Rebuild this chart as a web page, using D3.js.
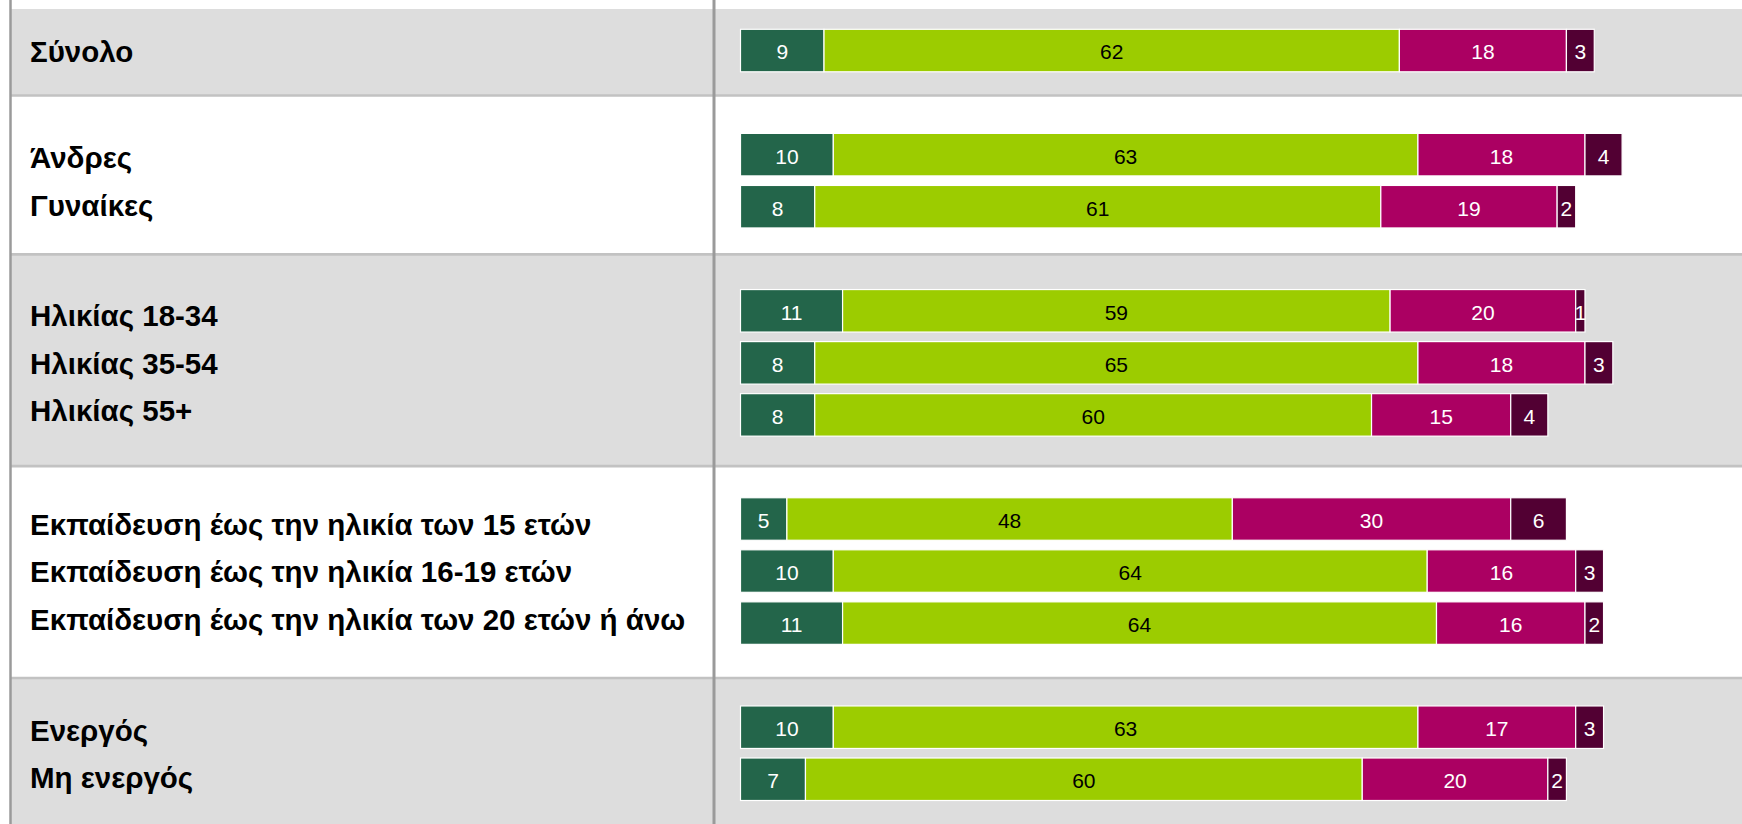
<!DOCTYPE html>
<html>
<head>
<meta charset="utf-8">
<script src="https://cdn.jsdelivr.net/npm/d3@7"></script>
<style>
  html, body { margin: 0; padding: 0; background: #ffffff; }
  svg { display: block; }
</style>
</head>
<body>
<script>
// ---- Data ----
const categories = [
  "Σύνολο",
  "Άνδρες", "Γυναίκες",
  "Ηλικίας 18-34", "Ηλικίας 35-54", "Ηλικίας 55+",
  "Εκπαίδευση έως την ηλικία των 15 ετών",
  "Εκπαίδευση έως την ηλικία 16-19 ετών",
  "Εκπαίδευση έως την ηλικία των 20 ετών ή άνω",
  "Ενεργός", "Μη ενεργός"
];
const groupOf = [0, 1, 1, 2, 2, 2, 3, 3, 3, 4, 4];
const series1 = [9, 10, 8, 11, 8, 8, 5, 10, 11, 10, 7];
const series2 = [62, 63, 61, 59, 65, 60, 48, 64, 64, 63, 60];
const series3 = [18, 18, 19, 20, 18, 15, 30, 16, 16, 17, 20];
const series4 = [3, 4, 2, 1, 3, 4, 6, 3, 2, 3, 2];
const seriesKeys = ["s1", "s2", "s3", "s4"];
const seriesColors = ["#23654a", "#9ccc00", "#ab0062", "#520033"];
const labelColors = ["#ffffff", "#000000", "#ffffff", "#ffffff"];

// ---- Layout ----
const W = 1742, H = 824;
const rows = categories.map((c, i) => ({
  name: c, g: groupOf[i], slot: i + groupOf[i],
  s1: series1[i], s2: series2[i], s3: series3[i], s4: series4[i]
}));
const nGroups = d3.max(groupOf) + 1;
const lastSlot = d3.max(rows, d => d.slot);

const x = d3.scaleLinear().domain([0, 100]).range([740.5, 1668.5]);
const y = d3.scaleLinear().domain([0, lastSlot]).range([29.3, 758]);
const barH = 42.5;
const sepY = d3.scaleLinear().domain([1, 12]).range([95.5, 678]);
const labelPitch = 47.5;

const svg = d3.select("body").append("svg").attr("width", W).attr("height", H);

// group bands
const groups = d3.range(nGroups).map(g => {
  const rs = rows.filter(r => r.g === g);
  return { g, rows: rs, first: rs[0].slot, last: rs[rs.length - 1].slot };
});
groups.forEach((gr, k) => {
  gr.top = k === 0 ? 9 : sepY(gr.first - 1);
  gr.bottom = k === nGroups - 1 ? H : sepY(gr.last + 1);
});

svg.selectAll("rect.band").data(groups).join("rect")
  .attr("class", "band")
  .attr("x", 10).attr("width", W - 10)
  .attr("y", d => d.top).attr("height", d => d.bottom - d.top)
  .attr("fill", d => d.g % 2 === 0 ? "#dddddd" : "#ffffff");

// separators
svg.selectAll("line.sep").data(groups.slice(1)).join("line")
  .attr("class", "sep")
  .attr("x1", 10).attr("x2", W)
  .attr("y1", d => d.top).attr("y2", d => d.top)
  .attr("stroke", "#c2c2c2").attr("stroke-width", 2.7);

// vertical rules
svg.append("line").attr("x1", 10.5).attr("x2", 10.5).attr("y1", 0).attr("y2", H)
  .attr("stroke", "#9a9a9a").attr("stroke-width", 2.5);
svg.append("line").attr("x1", 714).attr("x2", 714).attr("y1", 0).attr("y2", H)
  .attr("stroke", "#9a9a9a").attr("stroke-width", 3);

// row labels
const labelData = [];
groups.forEach(gr => {
  const c = (y(gr.first) + y(gr.last) + barH) / 2 + 0.5;
  const n = gr.rows.length;
  gr.rows.forEach((r, i) => labelData.push({ name: r.name, cy: c + (i - (n - 1) / 2) * labelPitch }));
});
svg.selectAll("text.rowlabel").data(labelData).join("text")
  .attr("class", "rowlabel")
  .attr("x", 30).attr("y", d => d.cy)
  .attr("dy", "0.36em")
  .attr("font-family", "'Liberation Sans', Arial, sans-serif")
  .attr("font-weight", "bold").attr("font-size", 29.5)
  .attr("fill", "#000")
  .text(d => d.name);

// stacked bars
const stack = d3.stack().keys(seriesKeys)(rows);
const layer = svg.selectAll("g.layer").data(stack).join("g")
  .attr("class", "layer")
  .attr("fill", (d, i) => seriesColors[i]);
layer.selectAll("rect").data(d => d).join("rect")
  .attr("x", d => x(d[0]))
  .attr("width", d => x(d[1]) - x(d[0]))
  .attr("y", d => y(d.data.slot))
  .attr("height", barH)
  .attr("stroke", "#ffffff").attr("stroke-width", 1.2);

stack.forEach((s, si) => {
  svg.append("g").selectAll("text").data(s).join("text")
    .attr("x", d => (x(d[0]) + x(d[1])) / 2)
    .attr("y", d => y(d.data.slot) + barH / 2 + 1.5)
    .attr("dy", "0.35em")
    .attr("text-anchor", "middle")
    .attr("font-family", "'Liberation Sans', Arial, sans-serif")
    .attr("font-size", 21)
    .attr("fill", labelColors[si])
    .text(d => d[1] - d[0]);
});
</script>
</body>
</html>
